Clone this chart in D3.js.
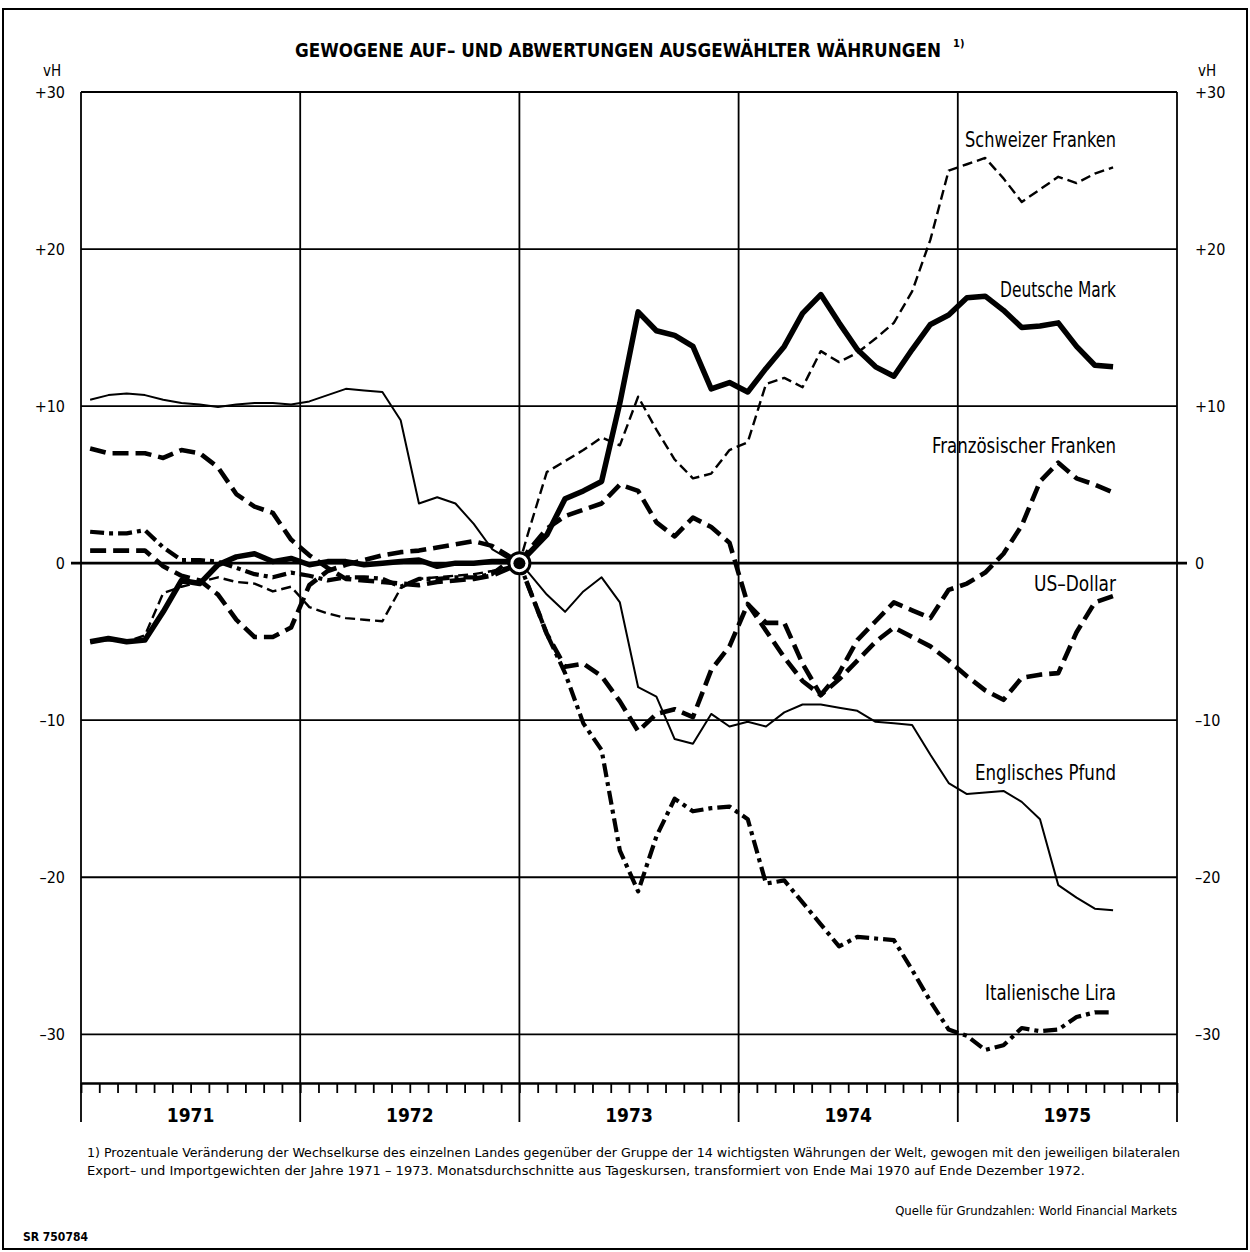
<!DOCTYPE html>
<html>
<head>
<meta charset="utf-8">
<script src="https://cdn.jsdelivr.net/npm/d3@7"></script>
<style>
  body { margin: 0; background: #fff; }
  svg { display: block; font-family: "Liberation Sans Narrow", "DejaVu Sans Condensed", "DejaVu Sans", sans-serif; }
</style>
</head>
<body>
<svg id="chart" width="1250" height="1252"></svg>
<script>
/** Year labels under the time axis */
var years = ['1971', '1972', '1973', '1974', '1975'];

/** Value axis ticks (vH) */
var yTicks = [30, 20, 10, 0, -10, -20, -30];
var yTickLabels = ['+30', '+20', '+10', '0', '–10', '–20', '–30'];

/** Monthly values, Jan 1971 .. Sep 1975 (base: end of Dec 1972 = 0) */
var schweizerFranken = [
  -5.0, -4.9, -5.0, -4.6, -1.9, -1.5, -1.2, -0.9, -1.2, -1.3, -1.8, -1.5,
  -2.8, -3.2, -3.5, -3.6, -3.7, -1.6, -1.0, -0.9, -0.8, -0.7, -0.5, -0.2,
  2.0, 5.8, 6.5, 7.2, 8.0, 7.5, 10.6, 8.5, 6.6, 5.4, 5.7, 7.2,
  7.7, 11.4, 11.8, 11.2, 13.5, 12.8, 13.4, 14.3, 15.3, 17.3, 20.6, 25.0,
  25.4, 25.8, 24.5, 23.0, 23.8, 24.6, 24.2, 24.8, 25.2
];
var deutscheMark = [
  -5.0, -4.8, -5.0, -4.9, -3.1, -1.1, -1.3, -0.1, 0.4, 0.6, 0.1, 0.3,
  -0.1, 0.1, 0.1, -0.1, 0.0, 0.1, 0.2, -0.2, 0.0, 0.0, 0.1, 0.1,
  0.6, 1.8, 4.1, 4.6, 5.2, 10.2, 16.0, 14.8, 14.5, 13.8, 11.1, 11.5,
  10.9, 12.4, 13.8, 15.9, 17.1, 15.3, 13.6, 12.5, 11.9, 13.6, 15.2, 15.8,
  16.9, 17.0, 16.1, 15.0, 15.1, 15.3, 13.8, 12.6, 12.5
];
var franzFranken = [
  0.8, 0.8, 0.8, 0.8, -0.2, -0.8, -1.1, -2.0, -3.6, -4.7, -4.7, -4.1,
  -1.4, -0.5, -0.1, 0.2, 0.5, 0.7, 0.8, 1.0, 1.2, 1.4, 1.1, 0.4,
  0.8, 2.2, 3.0, 3.4, 3.8, 5.0, 4.6, 2.6, 1.7, 2.9, 2.3, 1.3,
  -2.6, -4.3, -6.0, -7.5, -8.4, -7.0, -4.9, -3.7, -2.5, -3.0, -3.5, -1.7,
  -1.3, -0.6, 0.6, 2.4, 5.2, 6.4, 5.4, 5.0, 4.5
];
var usDollar = [
  7.3, 7.0, 7.0, 7.0, 6.7, 7.2, 7.0, 6.1, 4.4, 3.6, 3.2, 1.5,
  0.5, -0.3, -1.0, -1.1, -1.2, -1.3, -1.4, -1.2, -1.1, -1.0, -0.8, -0.3,
  -1.5, -4.5, -6.6, -6.4, -7.2, -8.8, -10.7, -9.6, -9.3, -9.8, -6.8, -5.3,
  -2.6, -3.8, -3.8, -6.4, -8.4, -7.4, -6.2, -5.0, -4.1, -4.7, -5.3, -6.2,
  -7.2, -8.1, -8.7, -7.3, -7.1, -7.0, -4.4, -2.5, -2.1
];
var englPfund = [
  10.4, 10.7, 10.8, 10.7, 10.4, 10.2, 10.1, 9.95, 10.1, 10.2, 10.2, 10.1,
  10.3, 10.7, 11.1, 11.0, 10.9, 9.1, 3.8, 4.2, 3.8, 2.5, 0.9, 0.2,
  -0.6, -2.0, -3.1, -1.8, -0.9, -2.5, -7.9, -8.5, -11.2, -11.5, -9.6, -10.4,
  -10.1, -10.4, -9.5, -9.0, -9.0, -9.2, -9.4, -10.1, -10.2, -10.3, -12.2, -14.0,
  -14.7, -14.6, -14.5, -15.2, -16.3, -20.5, -21.3, -22.0, -22.1
];
var italLira = [
  2.0, 1.9, 1.9, 2.1, 1.0, 0.2, 0.2, 0.1, -0.3, -0.7, -0.9, -0.6,
  -0.8, -1.1, -0.9, -0.9, -1.0, -1.5, -1.0, -1.0, -0.9, -0.9, -0.7, 0.2,
  -1.5, -4.5, -7.0, -10.2, -11.9, -18.3, -20.9, -17.4, -15.0, -15.8, -15.6, -15.5,
  -16.3, -20.4, -20.2, -21.6, -23.0, -24.4, -23.8, -23.9, -24.0, -25.9, -27.9, -29.7,
  -30.1, -31.0, -30.7, -29.6, -29.8, -29.7, -28.9, -28.6, -28.6
];

var seriesNames = ['Schweizer Franken', 'Deutsche Mark', 'Französischer Franken',
                   'US–Dollar', 'Englisches Pfund', 'Italienische Lira'];
var seriesValues = [schweizerFranken, deutscheMark, franzFranken, usDollar, englPfund, italLira];

/** Base month (end of Dec 1972) where every series is 0 */
var baseMonth = 24;

/** Line styles and label placement, one per series */
var styles = [
  { width: 2.4, dash: '10,5',     labelY: 26.5,  labelW: 151 },
  { width: 5.5, dash: null,       labelY: 16.95, labelW: 116 },
  { width: 4.6, dash: '16,7',     labelY: 7.0,   labelW: 184 },
  { width: 4.6, dash: '16,7',     labelY: -1.75, labelW: 82 },
  { width: 2.0, dash: null,       labelY: -13.8, labelW: 141 },
  { width: 4.2, dash: '14,5,4,5', labelY: -27.8, labelW: 131 }
];

var svg = d3.select('#chart');
svg.append('rect').attr('width', 1250).attr('height', 1252).attr('fill', '#fff');

// page frame
svg.append('rect')
    .attr('x', 3).attr('y', 9).attr('width', 1244).attr('height', 1240)
    .attr('fill', 'none').attr('stroke', '#000').attr('stroke-width', 2);

var x = d3.scaleLinear().domain([0, 60]).range([81, 1177]);
var y = d3.scaleLinear().domain([-33.1, 30]).range([1083, 92]);

// title
svg.append('text')
    .attr('x', 295).attr('y', 57)
    .attr('font-size', 19).attr('font-weight', 'bold')
    .attr('textLength', 646).attr('lengthAdjust', 'spacingAndGlyphs')
    .text('GEWOGENE AUF– UND ABWERTUNGEN AUSGEWÄHLTER WÄHRUNGEN');
svg.append('text')
    .attr('x', 953).attr('y', 47)
    .attr('font-size', 11).attr('font-weight', 'bold')
    .text('1)');

// horizontal grid (zero line runs slightly past the frame)
svg.append('g').selectAll('line')
    .data(yTicks)
    .enter().append('line')
    .attr('x1', function (d) { return d === 0 ? x(0) - 10 : x(0); })
    .attr('x2', function (d) { return d === 0 ? x(60) + 10 : x(60); })
    .attr('y1', function (d) { return y(d); })
    .attr('y2', function (d) { return y(d); })
    .attr('stroke', '#000')
    .attr('stroke-width', function (d) { return d === 0 ? 2.6 : 1.8; });

// year separators
svg.append('g').selectAll('line')
    .data(d3.range(0, 61, 12))
    .enter().append('line')
    .attr('x1', function (d) { return x(d); })
    .attr('x2', function (d) { return x(d); })
    .attr('y1', y(30)).attr('y2', 1122)
    .attr('stroke', '#000').attr('stroke-width', 1.8);

// month axis
var xAxis = d3.axisBottom(x)
    .tickValues(d3.range(0, 61))
    .tickSize(10).tickSizeOuter(0)
    .tickFormat('');
var gx = svg.append('g')
    .attr('transform', 'translate(0,' + y(-33.1) + ')')
    .call(xAxis);
gx.select('.domain').attr('stroke-width', 2.6);
gx.selectAll('.tick line').attr('stroke-width', 1.8);

// year labels
svg.append('g').selectAll('text')
    .data(years)
    .enter().append('text')
    .attr('x', function (d, i) { return x(i * 12 + 6); })
    .attr('y', 1122)
    .attr('text-anchor', 'middle')
    .attr('font-size', 19).attr('font-weight', 'bold')
    .text(function (d) { return d; });

// value axes
var leftAxis = d3.axisLeft(y).tickValues(yTicks).tickSize(0).tickPadding(16)
    .tickFormat(function (d, i) { return yTickLabels[i]; });
var rightAxis = d3.axisRight(y).tickValues(yTicks).tickSize(0).tickPadding(18)
    .tickFormat(function (d, i) { return yTickLabels[i]; });
[[leftAxis, x(0)], [rightAxis, x(60)]].forEach(function (a) {
    var g = svg.append('g').attr('transform', 'translate(' + a[1] + ',0)').call(a[0]);
    g.select('.domain').remove();
    g.selectAll('text')
        .attr('font-size', 16)
        .attr('font-family', '"Liberation Sans Narrow", "DejaVu Sans Condensed", sans-serif')
        .attr('fill', '#000');
});
svg.append('text').attr('x', 52).attr('y', 76).attr('text-anchor', 'middle')
    .attr('font-size', 15).text('vH');
svg.append('text').attr('x', 1207).attr('y', 76).attr('text-anchor', 'middle')
    .attr('font-size', 15).text('vH');

// series lines
var line = d3.line()
    .x(function (d) { return x(d.m); })
    .y(function (d) { return y(d.v); });

function toPoints(values) {
    var pts = [];
    values.forEach(function (v, i) {
        if (i === baseMonth) pts.push({ m: baseMonth, v: 0 });
        pts.push({ m: i + 0.5, v: v });
    });
    return pts;
}

var gLines = svg.append('g');
seriesValues.forEach(function (vals, i) {
    gLines.append('path')
        .datum(toPoints(vals))
        .attr('d', line)
        .attr('fill', 'none')
        .attr('stroke', '#000')
        .attr('stroke-width', styles[i].width)
        .attr('stroke-dasharray', styles[i].dash)
        .attr('stroke-linejoin', 'round');
});

// base point marker
svg.append('circle')
    .attr('cx', x(baseMonth)).attr('cy', y(0)).attr('r', 10.5)
    .attr('fill', '#fff').attr('stroke', '#000').attr('stroke-width', 3);
svg.append('circle')
    .attr('cx', x(baseMonth)).attr('cy', y(0)).attr('r', 6)
    .attr('fill', '#000');

// series labels
svg.append('g').selectAll('text')
    .data(seriesNames)
    .enter().append('text')
    .attr('x', function (d, i) { return 1116 - styles[i].labelW; })
    .attr('y', function (d, i) { return y(styles[i].labelY); })
    .attr('font-size', 21)
    .attr('textLength', function (d, i) { return styles[i].labelW; })
    .attr('lengthAdjust', 'spacingAndGlyphs')
    .text(function (d) { return d; });

// footnote and source
svg.append('text').attr('x', 87).attr('y', 1157).attr('font-size', 13)
    .attr('textLength', 1093).attr('lengthAdjust', 'spacingAndGlyphs')
    .text('1) Prozentuale Veränderung der Wechselkurse des einzelnen Landes gegenüber der Gruppe der 14 wichtigsten Währungen der Welt, gewogen mit den jeweiligen bilateralen');
svg.append('text').attr('x', 87).attr('y', 1175).attr('font-size', 13)
    .attr('textLength', 998).attr('lengthAdjust', 'spacingAndGlyphs')
    .text('Export– und Importgewichten der Jahre 1971 – 1973. Monatsdurchschnitte aus Tageskursen, transformiert von Ende Mai 1970 auf Ende Dezember 1972.');
svg.append('text').attr('x', 1177).attr('y', 1215).attr('font-size', 13)
    .attr('text-anchor', 'end')
    .text('Quelle für Grundzahlen: World Financial Markets');
svg.append('text').attr('x', 23).attr('y', 1241).attr('font-size', 12)
    .attr('font-weight', 'bold')
    .text('SR 750784');
</script>
</body>
</html>
